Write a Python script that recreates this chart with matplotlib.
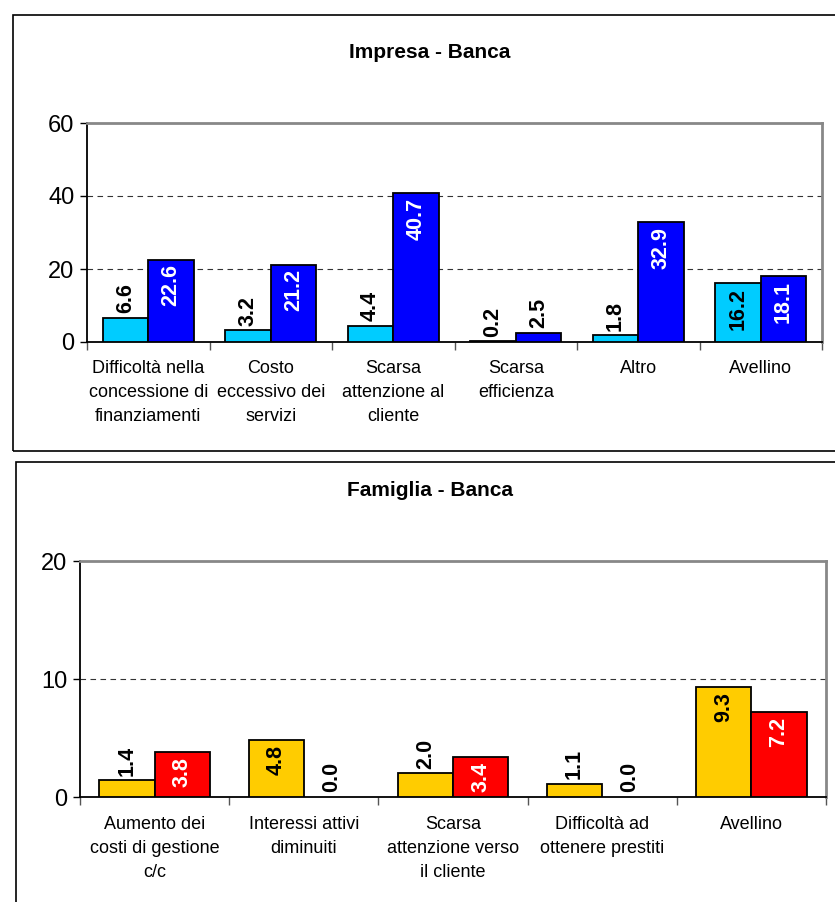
import matplotlib
matplotlib.use('Agg')
import matplotlib.pyplot as plt
from matplotlib.patches import Rectangle
import numpy as np

plt.rcParams['font.family'] = ['Liberation Sans Narrow', 'Liberation Sans', 'DejaVu Sans']

# Impresa - Banca
imp_cats = ['Difficoltà nella\nconcessione di\nfinanziamenti', 'Costo\neccessivo dei\nservizi',
            'Scarsa\nattenzione al\ncliente', 'Scarsa\nefficienza', 'Altro', 'Avellino']
imp_a = [6.6, 3.2, 4.4, 0.2, 1.8, 16.2]
imp_b = [22.6, 21.2, 40.7, 2.5, 32.9, 18.1]

# Famiglia - Banca
fam_cats = ['Aumento dei\ncosti di gestione\nc/c', 'Interessi attivi\ndiminuiti',
            'Scarsa\nattenzione verso\nil cliente', 'Difficoltà ad\nottenere prestiti', 'Avellino']
fam_a = [1.4, 4.8, 2.0, 1.1, 9.3]
fam_b = [3.8, 0.0, 3.4, 0.0, 7.2]

W, H = 835, 902
fig = plt.figure(figsize=(W / 100, H / 100), dpi=100)

# outer frames of the two charts
fig.patches.append(Rectangle((13 / W, 1 - 451 / H), 1.0, 436 / H, transform=fig.transFigure,
                             fill=False, edgecolor='black', lw=1.2))
fig.patches.append(Rectangle((16 / W, -0.05), 1.0, 1 - 462 / H + 0.05, transform=fig.transFigure,
                             fill=False, edgecolor='black', lw=1.2))


def panel(rect, title, title_y, cats, a, b, ca, cb, ymax, ystep, thresh, pad):
    ax = fig.add_axes(rect)
    n = len(cats)
    x = np.arange(n)
    w = 0.37
    lwa = [1.3 if v > 0 else 0 for v in a]
    lwb = [1.3 if v > 0 else 0 for v in b]
    ax.bar(x - w / 2, a, w, color=ca, edgecolor='black', linewidth=lwa, zorder=3)
    ax.bar(x + w / 2, b, w, color=cb, edgecolor='black', linewidth=lwb, zorder=3)
    ax.set_xlim(-0.5, n - 0.5)
    ax.set_ylim(0, ymax)
    ax.set_yticks(np.arange(0, ymax + 1, ystep))
    for v in np.arange(ystep, ymax, ystep):
        ax.axhline(v, color='#333333', lw=0.8, ls=(0, (5, 4)), zorder=1)
    ax.set_xticks(np.arange(-0.5, n, 1.0))
    ax.set_xticklabels([])
    ax.tick_params(axis='x', length=6, width=1, direction='out', color='#555555')
    ax.tick_params(axis='y', length=5, width=1, labelsize=17, pad=4)
    for i, c in enumerate(cats):
        ax.text(i, -0.08, c, transform=ax.get_xaxis_transform(), ha='center', va='top',
                fontsize=13, linespacing=1.55)
    for s in ['top', 'right']:
        ax.spines[s].set_color('#888888')
        ax.spines[s].set_linewidth(2)
    for s in ['left', 'bottom']:
        ax.spines[s].set_linewidth(1.3)
    for vals, off, fc in [(a, -w / 2, 'black'), (b, w / 2, 'white')]:
        for i, v in enumerate(vals):
            if v > thresh:
                ax.text(i + off, v - pad, f'{v:.1f}', rotation=90, ha='center', va='top',
                        fontsize=15.5, fontweight='bold', color=fc, family='Liberation Sans', zorder=4)
            else:
                ax.text(i + off, v + pad, f'{v:.1f}', rotation=90, ha='center', va='bottom',
                        fontsize=15.5, fontweight='bold', color='black', family='Liberation Sans', zorder=4)
    fig.text(0.515, title_y, title, ha='center', va='center', fontsize=15, fontweight='bold')
    return ax


panel([87 / W, 1 - 342 / H, 735 / W, 219 / H], 'Impresa - Banca', 1 - 52 / H,
      imp_cats, imp_a, imp_b, '#00CCFF', '#0000FF', 60, 20, 12, 1.3)
panel([80 / W, 1 - 797 / H, 746 / W, 236 / H], 'Famiglia - Banca', 1 - 490 / H,
      fam_cats, fam_a, fam_b, '#FFCC00', '#FF0000', 20, 10, 3, 0.4)

fig.savefig('out.png', dpi=100)
